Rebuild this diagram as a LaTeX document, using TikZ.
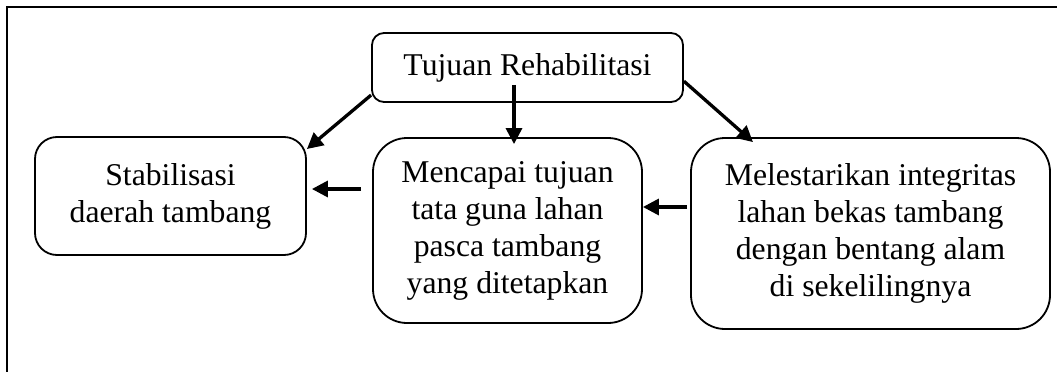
\documentclass[tikz,border=0pt]{standalone}
\usepackage{fontspec}
\setmainfont{Liberation Serif}
\usetikzlibrary{arrows.meta}
\tikzset{
  goalbox/.style={draw, line width=1.8pt, inner sep=0pt, align=center,
    font=\fontsize{31.7}{37}\selectfont},
  goalarrow/.style={-{Triangle[length=16pt,width=16pt]}, line width=3.3pt}
}
\begin{document}
\begin{tikzpicture}[x=1pt, y=-1pt]
        \useasboundingbox (0,0) rectangle (1057,372);
        \draw[line width=2pt] (1057,7) -- (7,7) -- (7,372);

        \draw (527.5,67.5) node[goalbox, rounded corners=12pt, minimum width=311pt, minimum height=69pt] (tujuan) {Tujuan Rehabilitasi};
        \draw (170.5,196) node[goalbox, rounded corners=22pt, minimum width=271pt, minimum height=118pt] (stabil) {Stabilisasi\\daerah tambang};
        \draw (507.5,230.5) node[goalbox, rounded corners=34pt, minimum width=269pt, minimum height=185pt] (guna) {Mencapai tujuan\\tata guna lahan\\pasca tambang\\yang ditetapkan};
        \draw (870.5,233.5) node[goalbox, rounded corners=34pt, minimum width=359pt, minimum height=191pt] (lestari) {Melestarikan integritas\\lahan bekas tambang\\dengan bentang alam\\di sekelilingnya};

        \draw[goalarrow] (tujuan.190) -- (stabil.19.6);
        \draw[goalarrow] ([xshift=-13.5pt,yshift=18pt]tujuan.south) -- ([xshift=6.5pt,yshift=-7pt]guna.north);
        \draw[goalarrow] (tujuan.-5) -- ([xshift=-117.5pt,yshift=-5pt]lestari.north);
        \draw[goalarrow] ([xshift=-3pt,yshift=26.5pt]lestari.west) -- ([yshift=26.5pt]lestari.west -| guna.east);
        \draw[goalarrow] ([xshift=-11pt,yshift=41.5pt]guna.west) -- ([xshift=5pt,yshift=7pt]stabil.east);
\end{tikzpicture}
\end{document}
